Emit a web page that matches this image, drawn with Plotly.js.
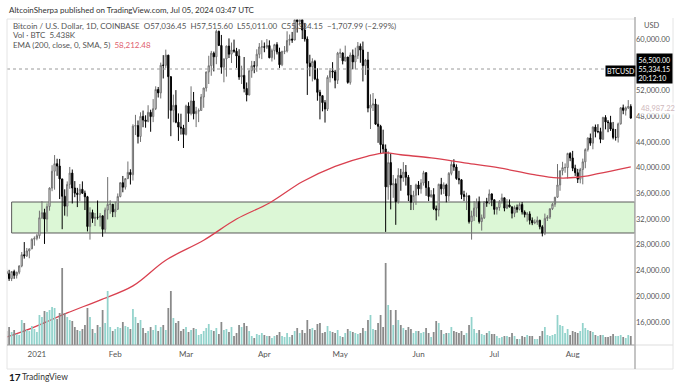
<!DOCTYPE html>
<html>
<head>
<meta charset="utf-8">
<script src="https://cdn.plot.ly/plotly-3.0.1.min.js"></script>
<style>
  html, body { margin: 0; padding: 0; background: #ffffff; }
  #chart { width: 680px; height: 384px; }
</style>
</head>
<body>
<div id="chart"></div>
<script>
// ---- DATA (BTC/USD daily, Coinbase) ----
const firstDate = '2020-12-20';

const open = [
  23860,23480,22740,23830,23240,23730,24710,26450,26280,27040,27360,28860,
  28990,29410,32200,33000,31990,33950,36820,39440,40610,40240,38240,35540,34000,37390,39150,36830,36030,35820,36630,36020,35470,30830,33010,32090,32280,32260,32500,30400,33400,34280,34300,
  33110,33520,35510,37660,36950,38290,39260,38890,46450,46530,44840,47970,47400,47190,48600,47930,49160,52150,51620,55920,55900,57490,54140,48900,49690,47060,46300,46150,
  45170,49590,48420,50370,48380,48760,48880,50970,52380,54880,55850,57800,57230,61190,59000,55610,56910,58900,57640,58290,58100,57350,54100,54340,52300,51300,55070,55840,55780,57630,58760,
  58780,58730,58980,57090,58200,59120,57990,56000,58080,58130,59770,59990,59840,63000,62700,63000,61400,60000,56230,55700,56500,53800,51700,51190,50100,49100,54030,55040,54880,53590,
  57800,57830,56600,57200,53250,57500,56440,57390,58890,58280,55860,56730,49250,49720,49880,46760,46430,43570,42900,37000,40780,37310,37500,34700,38800,38400,39300,38500,35700,34600,35700,
  37300,36700,37600,39200,36900,35500,35800,33600,33400,37400,36700,37300,35600,39100,40500,40100,38300,38100,35800,35500,35600,31600,32500,33700,34700,31600,32200,34700,34500,35900,
  35000,33500,33800,34700,35300,33700,34200,33900,32900,33800,33500,34250,33100,32700,32800,31800,31400,31500,31800,30800,29800,32100,32300,33600,34300,35400,37300,39500,40000,40000,42200,
  41500,39900,39200,38200,39700,40900,42800,44600,43800,46300,45600,45600,44400,47800,47100,47000,46000,44700,44700,46800,49300,48900,49300,49500
];
const high = [
  24290,24100,23850,24120,23800,24780,26870,28420,27500,27400,28990,29300,
  29680,33300,34790,33600,34440,36930,40370,41950,41380,41350,38260,36620,37850,40100,39700,37900,36850,37450,37860,36420,35600,33830,33460,32940,34880,32940,32560,33780,38530,34930,34340,
  34700,35980,37660,38700,38300,40950,39740,46740,48200,47330,48600,48870,48130,49700,49000,50650,52640,52540,56330,57490,58350,57530,54190,51350,52050,48430,48380,46650,
  49790,50150,52640,51760,49450,49200,51450,52400,54900,57390,58150,58050,61450,61300,60630,56950,58980,60090,59450,59910,58620,58410,55850,57200,53240,55100,56600,56560,58400,59370,59800,
  59460,60000,59790,58500,59250,59500,58650,58150,58900,61200,60700,61100,63300,63450,63100,63100,62500,60400,57550,57000,56750,55450,52100,51190,50500,54350,55480,56400,55200,58000,
  58500,57900,58970,57200,57900,58370,58650,59530,59300,59600,56900,58000,51400,51600,50700,49800,46650,45900,43600,42550,42200,38850,38300,39900,39800,40850,40400,38850,37300,36400,37500,
  37900,38200,39500,39300,37900,36500,36800,34100,37500,38400,37700,37500,39300,41000,41300,40500,39500,38200,36400,36100,35750,33300,34800,35200,35500,32700,34700,35300,36600,36000,
  35000,33900,34950,35950,35300,35100,35050,33900,34100,34250,34600,34650,33350,33100,33200,32250,31950,32400,31900,31050,32850,32600,33650,34500,35400,40550,39550,40900,40650,42300,42400,
  42600,40450,39800,39950,41400,43000,44700,45300,46400,46700,46750,46200,47900,48150,47400,48050,47100,46000,47000,49400,49800,49500,50500,49850
];
const low = [
  23070,22380,22350,22700,22750,23420,24500,25850,26100,25900,27330,27850,
  28690,28950,32000,28130,30010,33300,36330,36570,38720,35110,30420,32530,32400,36700,34420,35400,33860,34800,35900,33400,30070,28800,31400,30900,31910,30830,29240,29840,31940,32830,32300,
  32300,33420,35370,36160,36580,38210,37370,37990,45060,43750,43990,46280,46200,47050,45570,47070,48950,50900,50750,53860,55500,47600,44890,47040,46900,44150,45130,43050,
  45000,47100,48130,47500,46300,47070,48880,49300,51830,53000,54280,54960,56080,58900,54600,53270,54150,57040,56270,57850,55500,53650,53000,51700,50300,51240,53970,54680,54900,57000,56870,
  57940,58450,57000,56500,56800,57600,55500,55770,57650,57900,59000,59400,59800,61000,62050,60000,59600,51300,54200,53400,53600,50400,47500,48750,47000,48800,53250,53900,52330,53000,
  57050,56050,56500,53050,52900,55280,55300,56900,56300,53400,54400,48600,46000,48800,46650,43850,42100,42250,30000,35000,33500,35300,31100,34400,36400,37800,37200,34800,33400,33400,34200,
  35700,35950,37200,35600,34800,35300,33400,31800,32400,35800,35900,34600,34800,38800,39500,38100,37400,35100,34800,33400,31300,28800,31700,32300,31300,30200,32000,33900,34300,34000,
  32700,32700,33300,34400,33200,33550,33800,32100,32300,33000,33350,32700,32250,31600,31150,31050,31200,31100,30400,29300,29500,31700,32000,33400,33900,35300,36400,38800,39200,38300,41000,
  39450,38700,37600,37550,37400,39900,42500,43400,42850,44700,45350,43800,44300,45950,45500,45700,44400,44200,43900,46700,48300,48100,49100,47600
];
const close = [
  23480,22740,23830,23240,23730,24710,26450,26280,27040,27360,28860,28990,
  29410,32200,33000,31990,33950,36820,39440,40610,40240,38240,35540,34000,37390,39150,36830,36030,35820,36630,36020,35470,30830,33010,32090,32280,32260,32500,30400,33400,34280,34300,33110,
  33520,35510,37660,36950,38290,39260,38890,46450,46530,44840,47970,47400,47190,48600,47930,49160,52150,51620,55920,55900,57490,54140,48900,49690,47060,46300,46150,45170,
  49590,48420,50370,48380,48760,48880,50970,52380,54880,55850,57800,57230,61190,59000,55610,56910,58900,57640,58290,58100,57350,54100,54340,52300,51300,55070,55840,55780,57630,58760,58780,
  58730,58980,57090,58200,59120,57990,56000,58080,58130,59770,59990,59840,63000,62700,63000,61400,60000,56230,55700,56500,53800,51700,51190,50100,49100,54030,55040,54880,53590,57800,
  57830,56600,57200,53250,57500,56440,57390,58890,58280,55860,56730,49250,49720,49880,46760,46430,43570,42900,37000,40780,37310,37500,34700,38800,38400,39300,38500,35700,34600,35700,37300,
  36700,37600,39200,36900,35500,35800,33600,33400,37400,36700,37300,35600,39100,40500,40100,38300,38100,35800,35500,35600,31600,32500,33700,34700,31600,32200,34700,34500,35900,35000,
  33500,33800,34700,35300,33700,34200,33900,32900,33800,33500,34250,33100,32700,32800,31800,31400,31500,31800,30800,29800,32100,32300,33600,34300,35400,37300,39500,40000,40000,42200,41500,
  39900,39200,38200,39700,40900,42800,44600,43800,46300,45600,45600,44400,47800,47100,47000,46000,44700,44700,46800,49300,48900,49300,49500,47700
];
// volume, thousand BTC
const volume = [
  14,18,13,15,11,10,25,22,15,14,19,16,
  13,30,28,34,33,35,38,37,26,32,77,32,28,25,24,18,15,14,16,20,37,28,16,12,20,18,35,22,54,18,14,
  16,18,17,23,19,18,16,36,28,22,25,17,12,14,18,15,20,14,18,20,15,37,54,27,22,24,14,16,
  18,13,15,17,16,10,11,14,17,21,15,14,17,11,23,15,16,13,18,9,12,20,18,22,19,14,9,7,11,10,12,
  10,9,9,7,9,10,13,9,8,12,8,10,14,17,12,15,12,25,16,17,15,21,22,12,13,19,14,13,12,15,
  9,8,12,16,14,13,12,11,12,17,14,25,30,16,15,22,30,18,82,40,35,20,35,25,20,17,15,18,16,12,14,
  14,12,13,17,12,8,13,24,22,15,11,12,12,18,14,13,12,14,10,12,20,28,16,12,15,11,10,12,14,11,
  11,9,7,8,9,9,8,12,9,6,6,9,8,10,9,9,6,6,9,14,18,10,9,10,11,30,20,19,12,16,10,
  14,13,12,14,22,17,15,14,13,10,9,10,10,8,8,9,11,9,9,10,8,7,10,9
];
// EMA (200, close, 0, SMA, 5)
const emaDates  = ['2020-12-20','2020-12-30','2021-01-13','2021-01-26','2021-02-08','2021-02-21','2021-03-08','2021-03-21','2021-04-03','2021-04-16','2021-04-29','2021-05-12','2021-05-19','2021-05-25','2021-06-06','2021-06-20','2021-07-03','2021-07-16','2021-07-26','2021-08-03','2021-08-11','2021-08-24'];
const emaValues = [13650,15050,17400,19400,21600,25600,28700,32000,34500,37800,40200,41800,42300,42000,41500,40700,39950,38950,38400,38500,39050,40100];

const priceTicks = [16000,20000,24000,28000,32000,36000,40000,44000,48000,52000,60000];
const monthTicks = ['2021-01-01','2021-02-01','2021-03-01','2021-04-01','2021-05-01','2021-06-01','2021-07-01','2021-08-01'];
const monthLabels = ['2021','Feb','Mar','Apr','May','Jun','Jul','Aug'];

const zoneTop = 34650, zoneBottom = 29830, zoneStart = '2020-12-22';
const lastPrice = 55334.15;

// ---- BUILD ----
const dates = open.map((_, i) => {
  const d = new Date(firstDate + 'T00:00:00Z');
  d.setUTCDate(d.getUTCDate() + i);
  return d.toISOString().slice(0, 10);
});
const volColors = close.map((c, i) => c >= open[i] ? '#93d3cc' : '#8a8a8a');

const L = 7, R = 635, T = 19, B = 345;
const xp = px => (px - L) / (R - L);
const yp = py => (B - py) / (B - T);
const FONT = 'Lato, "Open Sans", sans-serif';

const xRange = ['2020-12-20 04:00', '2021-08-25 16:00'];

const traces = [
  {
    type: 'bar', x: dates, y: volume, yaxis: 'y2',
    marker: { color: volColors, line: { width: 0 } },
    hoverinfo: 'skip', showlegend: false
  },
  {
    type: 'scatter', mode: 'lines', x: emaDates, y: emaValues,
    line: { color: '#d9404f', width: 1.3, shape: 'spline', smoothing: 1 },
    hoverinfo: 'skip', showlegend: false
  },
  {
    type: 'candlestick', x: dates, open: open, high: high, low: low, close: close,
    increasing: { line: { color: '#707070', width: 1 }, fillcolor: '#ffffff' },
    decreasing: { line: { color: '#000000', width: 1 }, fillcolor: '#000000' },
    whiskerwidth: 0, hoverinfo: 'skip', showlegend: false
  }
];

const shapes = [
  { type: 'rect', xref: 'x', yref: 'y', x0: zoneStart, x1: xRange[1], y0: zoneBottom, y1: zoneTop,
    fillcolor: '#dcf7d6', line: { color: '#5a5a5a', width: 1 }, layer: 'below' },
  { type: 'line', xref: 'paper', yref: 'y', x0: 0, x1: xp(605), y0: lastPrice, y1: lastPrice,
    line: { color: '#9a9a9a', width: 1, dash: 'dot' } },
  { type: 'line', xref: 'paper', yref: 'paper', x0: 0, x1: 1, y0: 1, y1: 1, line: { color: '#e4e4e4', width: 1 } },
  { type: 'line', xref: 'paper', yref: 'paper', x0: 0, x1: 0, y0: 1, y1: yp(369), line: { color: '#e4e4e4', width: 1 } },
  { type: 'line', xref: 'paper', yref: 'paper', x0: 0, x1: 1, y0: 0, y1: 0, line: { color: '#9a9a9a', width: 1 } },
  { type: 'line', xref: 'paper', yref: 'paper', x0: 1, x1: xp(673), y0: 0, y1: 0, line: { color: '#dddddd', width: 1 } },
  { type: 'line', xref: 'paper', yref: 'paper', x0: 0, x1: xp(673), y0: yp(369), y1: yp(369), line: { color: '#e4e4e4', width: 1 } },
  { type: 'line', xref: 'paper', yref: 'paper', x0: xp(673), x1: xp(673), y0: yp(18), y1: yp(369), line: { color: '#e4e4e4', width: 1 } },
  { type: 'line', xref: 'paper', yref: 'paper', x0: 1, x1: 1, y0: yp(17), y1: yp(369), line: { color: '#b0b0b0', width: 1.5 } }
];

const txt = (px, py, text, size, color, extra) => Object.assign({
  xref: 'paper', yref: 'paper', x: xp(px), y: yp(py), xanchor: 'left', yanchor: 'middle',
  text: text, showarrow: false, font: { family: FONT, size: size, color: color }
}, extra || {});

const annotations = [
  txt(7, 9.5, 'AltcoinSherpa published on TradingView.com, Jul 05, 2024 03:47 UTC', 8, '#333333'),
  txt(11, 25.5, 'Bitcoin / U.S. Dollar, 1D, COINBASE&nbsp;&nbsp;O57,036.45&nbsp;&nbsp;H57,515.60&nbsp;&nbsp;L55,011.00&nbsp;&nbsp;C55,334.15&nbsp;&nbsp;−1,707.99 (−2.99%)', 8, '#555555'),
  txt(11, 35, 'Vol · BTC&nbsp;&nbsp;5.438K', 8, '#555555'),
  txt(11, 44.5, 'EMA (200, close, 0, SMA, 5)&nbsp;&nbsp;<span style="color:#e0606e">58,212.48</span>', 8, '#555555'),
  txt(642, 26, 'USD', 7.5, '#555555'),
  txt(605, 70.5, 'BTCUSD', 7, '#ffffff', { bgcolor: '#000000', borderpad: 1 }),
  txt(636, 68, '56,500.00<br>55,334.15<br>20:12:10', 7, '#ffffff', { bgcolor: '#000000', borderpad: 1.5, align: 'left' }),
  txt(639, 109, '48,987.22', 7.5, '#cfb7bb', { bgcolor: 'rgba(255,255,255,0.7)' }),
  txt(7, 377, '<b>17</b>', 10, '#131722'),
  txt(20, 377, 'TradingView', 8.5, '#333333')
];

const layout = {
  width: 680, height: 384,
  margin: { l: L, r: 680 - R, t: T, b: 384 - B },
  paper_bgcolor: '#ffffff', plot_bgcolor: '#ffffff',
  showlegend: false,
  bargap: 0.3,
  font: { family: FONT, size: 8, color: '#555555' },
  xaxis: {
    type: 'date', range: xRange, rangeslider: { visible: false },
    tickvals: monthTicks, ticktext: monthLabels,
    tickfont: { family: FONT, size: 8, color: '#555555' },
    ticklabelstandoff: 3,
    showgrid: false, zeroline: false, showline: false, ticks: '', fixedrange: true
  },
  yaxis: {
    side: 'right', range: [12411, 63110],
    tickvals: priceTicks, ticktext: priceTicks.map(v => v.toLocaleString('en-US', { minimumFractionDigits: 2 })),
    tickfont: { family: FONT, size: 7.5, color: '#555555' },
    showgrid: false, zeroline: false, showline: false, ticks: '', fixedrange: true
  },
  yaxis2: { overlaying: 'y', range: [0, 326], visible: false, fixedrange: true },
  shapes: shapes,
  annotations: annotations
};

Plotly.newPlot('chart', traces, layout, { staticPlot: true, displayModeBar: false });
</script>
</body>
</html>
